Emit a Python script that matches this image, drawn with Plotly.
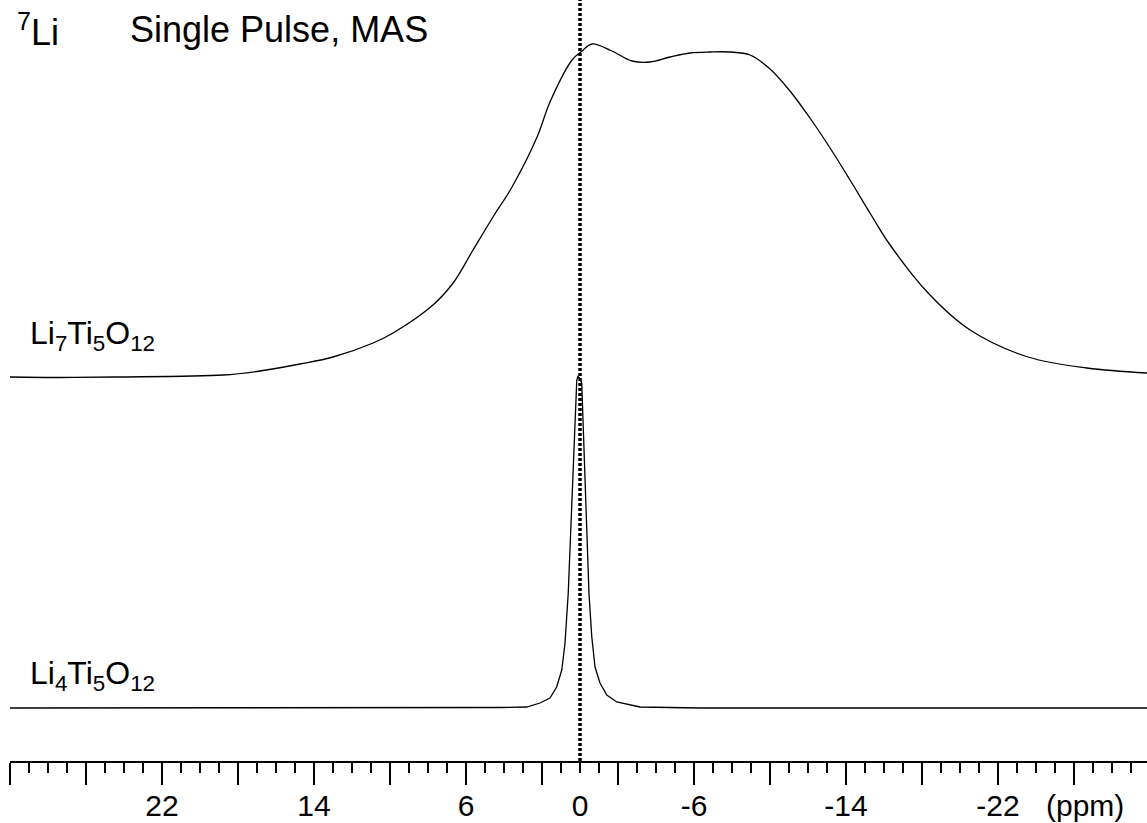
import plotly.graph_objects as go

# ---- data (ppm, intensity above own baseline) ----
li7_ppm = [30.0, 27.37, 24.42, 18.79, 16.84, 14.74, 13.0, 10.89, 9.84, 7.74, 6.68,
           5.63, 4.58, 3.58, 2.26, 1.58, 0.42, -0.11, -0.63, -1.68, -2.74, -3.68,
           -4.74, -5.79, -6.84, -7.89, -8.95, -10.0, -11.05, -12.1, -13.16, -14.21,
           -15.26, -16.32, -18.32, -20.53, -23.58, -26.68, -29.84]
li7_int = [0, -0.5, 0, 2, 6, 13, 20, 34, 44, 72, 94,
           127, 160, 190, 240, 275, 317, 326, 333, 326, 316, 315,
           320, 324, 325, 325, 322, 308, 286, 259, 229, 197,
           164, 132, 84, 47, 20, 9, 4]

li4_ppm = [30.0, 6.84, 4.21, 2.81, 2.11, 1.58, 1.23, 0.96, 0.79, 0.62, 0.49, 0.35,
           0.26, 0.17, 0.11, 0.03, -0.09, -0.17, -0.26, -0.35, -0.47, -0.62, -0.79,
           -1.05, -1.41, -1.93, -2.63, -3.16, -6.32, -29.84]
li4_int = [0, 0, 0.5, 1, 5, 10, 21, 38, 65, 115, 181, 248,
           298, 328, 331.5, 330, 325, 281, 231, 181, 115, 71, 41,
           25, 13, 6, 3, 1, 0, 0]

major_ticks = [30, 26, 22, 18, 14, 10, 6, 2, -2, -6, -10, -14, -18, -22, -26]
label_ticks = [22, 14, 6, 0, -6, -14, -22]
label_text = ["22", "14", "6", "0", "-6", "-14", "-22"]
ref_ppm = 0

li7_offset = 384
li4_offset = 53

FONT = "Liberation Sans, Arial, sans-serif"

fig = go.Figure()
fig.add_trace(go.Scatter(x=li7_ppm, y=[v + li7_offset for v in li7_int], mode="lines",
                         line=dict(color="black", width=1.3), line_shape="spline",
                         showlegend=False, hoverinfo="skip"))
fig.add_trace(go.Scatter(x=li4_ppm, y=[v + li4_offset for v in li4_int], mode="lines",
                         line=dict(color="black", width=1.3),
                         showlegend=False, hoverinfo="skip"))
# invisible trace to activate the second x axis (tick labels)
fig.add_trace(go.Scatter(x=[ref_ppm], y=[0], xaxis="x2", mode="markers",
                         marker=dict(opacity=0), showlegend=False, hoverinfo="skip"))

rng = [30, -29.84]
fig.update_layout(
    width=1147, height=823,
    margin=dict(l=10, r=0, t=0, b=62, autoexpand=False),
    paper_bgcolor="white", plot_bgcolor="white",
    font=dict(family=FONT, color="black"),
    xaxis=dict(range=rng, showgrid=False, zeroline=False, showline=True, automargin=False,
               linecolor="black", linewidth=2,
               tickmode="array", tickvals=major_ticks, showticklabels=False,
               ticks="outside", ticklen=22, tickwidth=2, tickcolor="black",
               minor=dict(dtick=1, tick0=0, ticks="outside", ticklen=10,
                          tickwidth=2, tickcolor="black")),
    xaxis2=dict(range=rng, overlaying="x", anchor="y", side="bottom", automargin=False,
                showgrid=False, zeroline=False, showline=False,
                tickmode="array", tickvals=label_ticks, ticktext=label_text,
                ticks="outside", ticklen=22, tickcolor="rgba(0,0,0,0)",
                ticklabelstandoff=-4,
                tickfont=dict(size=30, family=FONT, color="black")),
    yaxis=dict(range=[0, 761], visible=False, showgrid=False, zeroline=False,
               automargin=False),
)

fig.add_shape(type="line", xref="x", yref="paper", x0=ref_ppm, x1=ref_ppm, y0=0, y1=1,
              line=dict(color="black", width=3.5, dash="3px,2px"))

fig.add_annotation(xref="paper", yref="paper", x=(1085 - 10) / 1137, y=(761 - 805) / 761,
                   text="(ppm)", showarrow=False, xanchor="center", yanchor="middle",
                   font=dict(size=30, family=FONT, color="black"))
fig.add_annotation(xref="paper", yref="paper", x=(15 - 10) / 1137, y=(761 - 30) / 761,
                   text="<sup>7</sup>Li", showarrow=False, xanchor="left", yanchor="middle",
                   font=dict(size=36, family=FONT, color="black"))
fig.add_annotation(xref="paper", yref="paper", x=(128 - 10) / 1137, y=(761 - 30) / 761,
                   text="Single Pulse, MAS", showarrow=False, xanchor="left", yanchor="middle",
                   font=dict(size=36, family=FONT, color="black"))
fig.add_annotation(xref="paper", yref="paper", x=(28 - 10) / 1137, y=(761 - 335) / 761,
                   text="Li<sub>7</sub>Ti<sub>5</sub>O<sub>12</sub>", showarrow=False,
                   xanchor="left", yanchor="middle",
                   font=dict(size=32, family=FONT, color="black"))
fig.add_annotation(xref="paper", yref="paper", x=(28 - 10) / 1137, y=(761 - 675) / 761,
                   text="Li<sub>4</sub>Ti<sub>5</sub>O<sub>12</sub>", showarrow=False,
                   xanchor="left", yanchor="middle",
                   font=dict(size=32, family=FONT, color="black"))

fig.write_html("out.html", config={"displayModeBar": False},
               post_script="document.body.style.margin='0';document.body.style.overflow='hidden';")
